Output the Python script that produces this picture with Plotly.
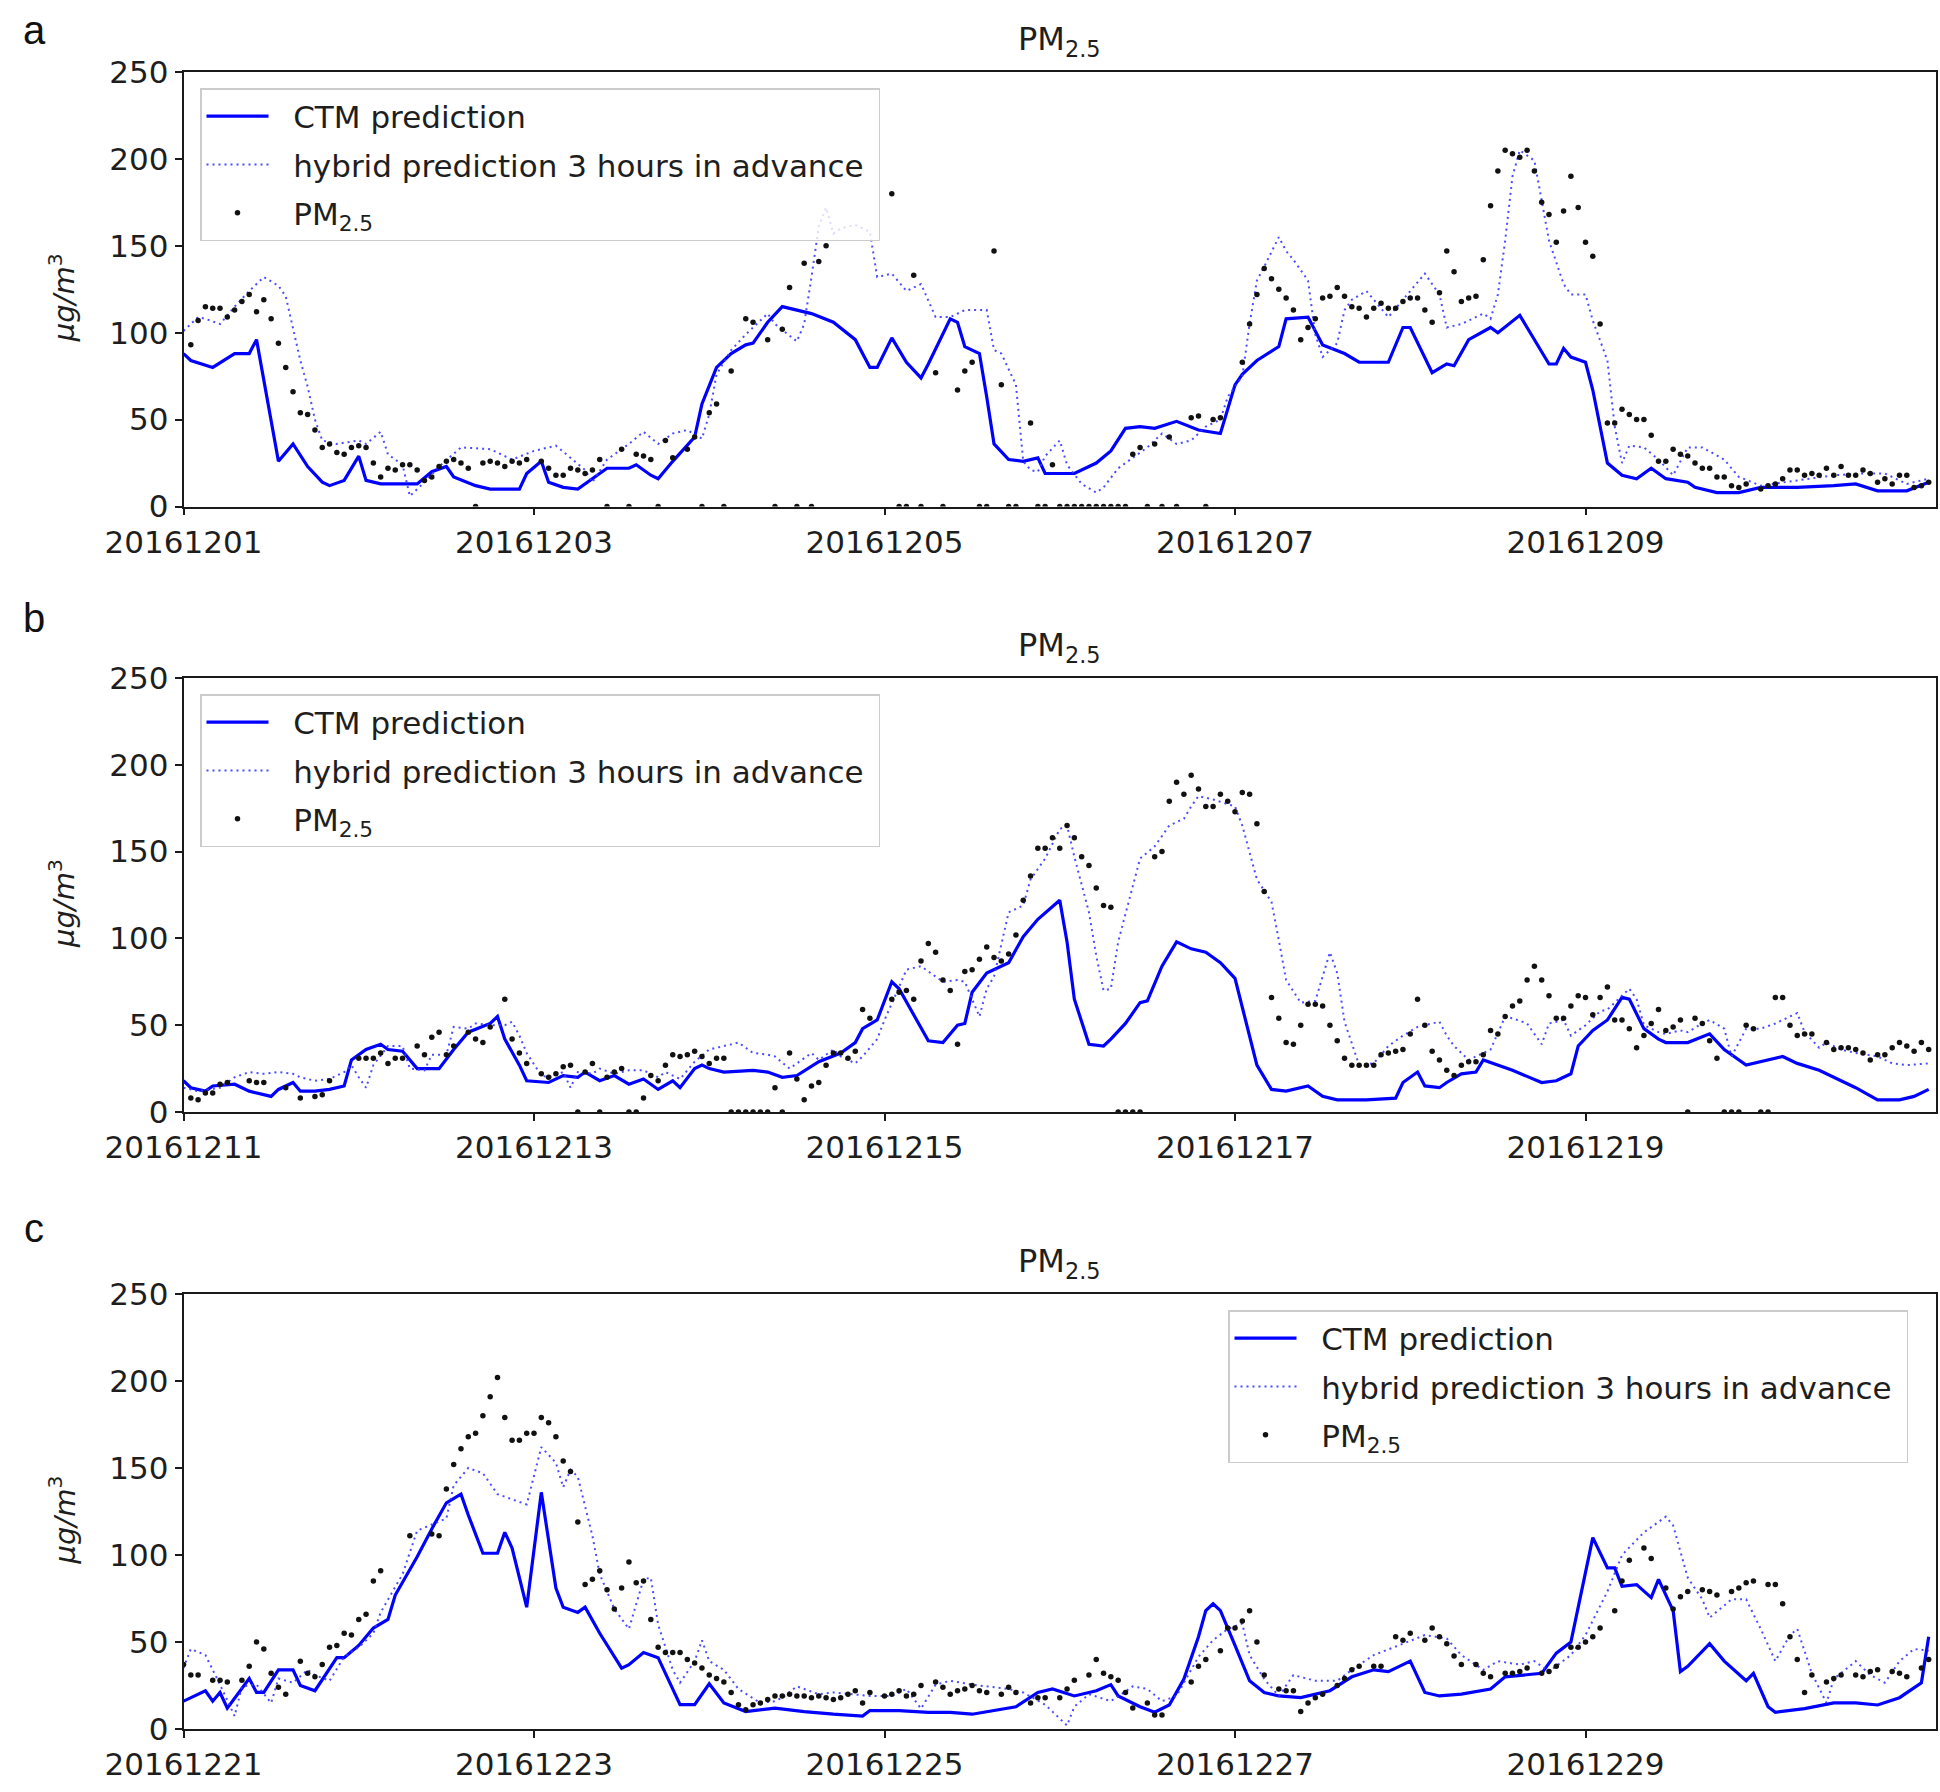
import plotly.graph_objects as go

W, H = 1940, 1792

# ---------------- data ----------------
tick_hours = [0, 48, 96, 144, 192]
tick_labels_a = ["20161201", "20161203", "20161205", "20161207", "20161209"]
tick_labels_b = ["20161211", "20161213", "20161215", "20161217", "20161219"]
tick_labels_c = ["20161221", "20161223", "20161225", "20161227", "20161229"]
y_ticks = [0, 50, 100, 150, 200, 250]

# (hour, value) vertices
a_ctm = [(0,88),(1,84),(4,80),(6,85),(7,88),(9,88),(10,96),(13,26),(15,36),(17,23),(19,14),(20,12),(22,15),(24,29),(25,15),(27,13),(32,13),(34,20),(36,23),(37,17),(40,12),(42,10),(46,10),(47,19),(49,26),(50,14),(52,11),(54,10),(56,16),(58,22),(61,22),(62,24),(64,18),(65,16),(67,26),(70,40),(71,59),(73,80),(75,88),(77,93),(78,94),(80,106),(82,115),(86,111),(89,106),(92,96),(94,80),(95,80),(97,97),(99,83),(101,74),(102,82),(105,108),(106,106),(107,92),(109,88),(110,63),(111,36),(113,27),(115,26),(117,28),(118,19),(122,19),(125,25),(127,32),(129,45),(131,46),(133,45),(136,49),(139,44),(142,42),(144,70),(145,76),(147,84),(150,92),(151,108),(154,109),(156,93),(159,88),(161,83),(165,83),(167,103),(168,103),(171,77),(173,82),(174,81),(176,96),(179,103),(180,100),(183,110),(184,103),(187,82),(188,82),(189,91),(190,86),(192,83),(193,67),(194,46),(195,25),(197,18),(199,16),(201,22),(203,16),(206,14),(207,11),(210,8),(213,8),(216,11),(221,11),(226,12),(229,13),(232,9),(236,9),(239,14)]
a_hyb = [(0,101),(2,109),(3,108),(5,105),(7,115),(9,124),(11,132),(13,127),(14,121),(15,103),(16,84),(17,69),(18,50),(19,38),(21,36),(24,38),(25,36),(27,43),(28,30),(30,24),(31,6),(33,14),(35,23),(38,34),(42,33),(45,27),(48,32),(51,35),(53,28),(55,21),(56,14),(58,27),(61,36),(63,43),(65,36),(67,42),(69,44),(71,39),(72,53),(73,76),(75,90),(77,99),(80,111),(81,105),(84,95),(85,105),(86,132),(87,161),(88,172),(89,157),(90,160),(92,162),(94,158),(95,132),(97,134),(99,124),(101,128),(103,109),(105,109),(107,113),(110,113),(111,90),(112,88),(114,70),(115,26),(116,21),(117,20),(118,29),(120,38),(121,24),(123,13),(125,8),(126,11),(128,22),(130,28),(132,34),(134,42),(136,36),(138,38),(140,46),(142,50),(143,63),(145,75),(146,105),(147,130),(148,138),(150,155),(151,147),(152,142),(154,130),(155,99),(156,86),(158,94),(159,113),(160,119),(162,124),(165,109),(168,124),(170,134),(172,122),(173,103),(175,105),(178,111),(179,108),(180,122),(181,153),(182,190),(183,205),(185,199),(186,176),(187,153),(189,128),(190,122),(192,122),(193,107),(195,84),(196,46),(197,25),(198,35),(200,34),(202,27),(204,18),(206,34),(208,34),(211,27),(213,17),(216,12),(221,15),(226,18),(230,19),(233,19),(236,13),(239,16)]
# hourly observations (None = not shown, 0 = missing value drawn on the axis)
a_obs = [None,93,107,115,114,114,109,113,118,122,
         112,119,108,94,80,66,54,53,44,34,
         36,31,30,34,35,34,25,17,22,21,
         24,24,21,15,17,23,26,27,25,22,
         0,25,26,25,23,26,25,27,None,26,
         22,18,18,22,21,19,21,27,0,None,
         33,0,30,29,27,0,38,28,None,33,
         40,0,54,59,0,78,None,108,106,None,
         96,0,102,126,0,140,0,141,150,None,
         None,None,None,None,None,None,None,180,0,0,
         133,0,None,77,0,None,67,78,83,0,
         0,147,70,0,0,None,48,0,0,24,
         0,0,0,0,0,0,0,0,0,0,
         30,34,0,36,0,40,0,None,51,52,
         0,50,51,None,None,83,105,122,137,131,
         125,120,113,96,103,108,120,121,126,121,
         115,114,109,114,117,114,114,118,120,120,
         113,106,123,147,135,118,120,121,142,173,
         193,205,203,201,205,193,175,168,152,170,
         190,172,152,144,105,48,48,56,53,50,
         50,41,26,26,33,30,29,25,22,22,
         17,17,12,11,13,None,10,12,13,16,
         21,21,18,19,18,22,18,23,18,18,
         21,19,14,16,13,18,18,11,12,14]

b_ctm = [(0,18),(1,14),(3,12),(4,15),(7,16),(9,12),(12,9),(13,13),(15,17),(16,12),(18,12),(20,13),(22,15),(23,30),(25,36),(27,39),(28,36),(30,35),(32,25),(35,25),(37,36),(39,46),(42,51),(43,55),(44,42),(46,27),(47,18),(50,17),(52,21),(54,20),(55,23),(57,18),(59,21),(61,16),(63,19),(65,13),(67,18),(68,14),(70,25),(71,27),(72,25),(74,23),(78,24),(80,23),(82,20),(84,21),(87,29),(90,34),(92,40),(93,48),(95,53),(97,75),(98,71),(100,56),(102,41),(104,40),(106,50),(107,51),(108,69),(110,80),(112,84),(113,86),(115,101),(117,111),(120,122),(121,98),(122,65),(124,39),(126,38),(127,42),(129,51),(131,63),(132,64),(134,84),(136,98),(138,94),(140,92),(142,86),(144,77),(146,44),(147,27),(149,13),(151,12),(154,15),(156,9),(158,7),(162,7),(166,8),(167,17),(169,23),(170,15),(172,14),(173,17),(175,22),(177,23),(178,30),(180,27),(182,24),(186,17),(188,18),(190,22),(191,38),(193,47),(195,53),(197,66),(198,65),(200,48),(202,42),(203,40),(206,40),(209,45),(211,36),(214,27),(216,29),(219,32),(221,28),(224,24),(226,20),(229,14),(232,7),(235,7),(237,9),(239,13)]
b_hyb = [(0,14),(2,12),(5,14),(7,20),(9,23),(11,22),(13,23),(15,22),(16,20),(18,18),(20,19),(22,23),(23,27),(24,20),(25,14),(26,27),(28,38),(30,38),(31,25),(33,24),(34,33),(36,33),(37,49),(39,48),(40,51),(42,50),(44,50),(45,52),(46,44),(47,34),(49,21),(50,20),(52,23),(53,14),(54,23),(56,22),(57,25),(59,22),(61,24),(63,24),(65,20),(66,23),(68,19),(70,29),(72,36),(74,38),(76,40),(78,34),(80,33),(81,32),(83,25),(86,34),(87,30),(89,36),(90,32),(92,28),(93,32),(95,42),(96,53),(98,72),(99,82),(101,84),(103,78),(104,75),(106,76),(107,75),(109,55),(110,71),(111,78),(113,115),(115,119),(116,134),(118,146),(120,163),(121,165),(122,147),(124,115),(125,90),(126,70),(127,71),(128,98),(130,130),(131,146),(133,153),(135,165),(137,169),(138,176),(139,182),(141,180),(144,176),(145,165),(147,134),(149,121),(150,99),(151,76),(153,63),(155,64),(157,92),(158,80),(159,52),(161,27),(163,28),(165,38),(167,44),(169,49),(172,52),(173,44),(174,38),(176,30),(177,32),(179,36),(181,55),(182,54),(184,51),(186,39),(187,51),(189,53),(190,44),(192,50),(194,58),(195,59),(198,71),(199,65),(200,50),(202,46),(203,45),(205,47),(206,46),(208,51),(209,53),(211,48),(212,32),(214,48),(216,48),(218,51),(221,57),(222,46),(224,37),(225,40),(227,36),(229,34),(232,32),(234,28),(236,27),(239,28)]
b_obs = [None,8,7,11,11,16,17,None,None,18,
         17,17,None,None,14,None,8,None,9,10,
         18,None,None,None,31,31,31,34,28,31,
         31,None,38,33,43,46,33,38,None,46,
         42,40,49,None,65,42,34,28,None,22,
         20,22,26,27,0,23,28,0,20,23,
         25,0,0,8,21,18,27,33,32,33,
         35,32,28,31,31,0,0,0,0,0,
         0,14,0,34,19,7,15,17,27,34,
         34,31,35,59,54,None,None,65,69,70,
         65,87,97,92,76,70,39,81,82,88,
         95,89,87,91,102,122,136,152,152,158,
         152,165,158,147,142,129,119,118,0,0,
         0,0,None,147,150,179,190,183,194,186,
         176,176,183,179,173,184,183,166,127,66,
         54,40,39,50,62,62,61,50,41,31,
         27,27,27,27,33,34,35,36,45,65,
         50,35,30,24,21,27,29,29,33,47,
         45,55,61,64,76,84,76,67,54,54,
         61,67,66,56,66,72,53,53,48,37,
         44,51,59,47,49,53,0,54,51,41,
         31,0,0,0,50,48,0,0,66,66,
         50,44,45,45,None,40,36,37,37,36,
         34,30,33,33,37,40,38,35,40,36]

c_ctm = [(0,16),(3,22),(4,16),(5,21),(6,12),(9,29),(10,21),(11,21),(13,34),(15,34),(16,25),(18,22),(21,41),(22,41),(24,48),(26,58),(28,63),(29,77),(32,99),(34,115),(36,130),(38,135),(39,123),(41,101),(43,101),(44,113),(45,104),(47,70),(49,136),(51,81),(52,70),(54,67),(55,70),(57,55),(60,35),(61,37),(63,44),(65,41),(66,32),(68,14),(70,14),(72,26),(74,15),(77,10),(81,12),(85,10),(89,8.5),(93,7.4),(94,10.6),(98,10.6),(102,9.6),(105,9.6),(108,8.5),(111,10.6),(114,12.8),(117,21),(119,23),(122,19),(125,22),(127,25.5),(128,19),(131,12.8),(133,9.6),(135,13.8),(137,28.7),(139,53),(140,68),(141,72),(142,68),(144,48),(146,27.7),(148,21),(150,19),(153,18),(157,22),(160,30),(163,34),(165,33),(168,39),(170,21),(172,19),(175,20),(179,23),(181,30),(184,31),(186,32),(188,43.6),(190,50),(193,110),(195,92.6),(196,92.6),(197,82),(199,83),(201,75.5),(202,86),(204,68),(205,33),(206,36),(209,49),(211,39),(214,27.7),(215,32),(217,12.8),(218,9.6),(222,11.7),(226,15),(229,15),(232,13.8),(235,18),(238,26.6),(239,53)]
c_hyb = [(0,35),(1,46),(3,42.5),(5,25.5),(7,7.4),(8,24.5),(10,25.5),(12,15),(13,29),(15,26.6),(17,34),(18,31),(20,27.7),(22,41.5),(24,47),(26,55),(27,67),(30,89),(32,114),(36,121),(37,140),(39,150),(41,147),(43,135),(45,132),(47,129),(49,162),(51,153),(52,139),(53,149),(54,145),(56,111),(57,89),(59,69),(61,57.5),(63,86),(64,87),(65,60),(67,34),(68,26.6),(70,39),(71,51),(72,39),(74,34),(76,23),(79,15),(81,16),(82,18),(84,24.5),(87,20),(89,21),(92,20),(94,19),(97,19),(99,23),(101,11.7),(103,25.5),(105,27.7),(108,25.5),(110,24.5),(113,23),(115,21),(118,14),(121,2),(122,12.8),(124,20),(127,16),(130,24.5),(132,23),(134,16),(136,19),(139,41.5),(141,51),(143,57.5),(145,60.6),(146,42.5),(148,28.7),(150,19),(152,31),(155,27.7),(158,27.7),(160,34),(163,42.5),(167,49),(170,54),(173,52),(175,42.5),(178,34),(180,39),(183,37),(185,39),(187,33),(190,42.5),(192,54),(195,79),(197,100),(200,113),(203,122),(204,117),(206,87),(208,74.5),(209,64),(212,74.5),(214,74.5),(216,57.5),(218,39),(220,54),(221,57.5),(223,32),(225,15),(226,28.7),(229,39),(231,31),(233,26.6),(235,39),(237,46),(239,45)]
c_obs = [37,31,31,None,28,28,27,None,28,36,
         50,46,32,24,20,None,39,32,30,37,
         47,48,55,54,63,66,85,91,None,None,
         None,111,None,None,112,111,138,152,161,168,
         170,180,191,202,179,166,166,170,170,179,
         176,168,154,148,119,83,86,91,80,69,
         81,96,84,85,63,47,44,44,44,40,
         38,35,31,29,27,21,14,11,14,15,
         17,19,19,20,19,19,18,19,18,17,
         18,20,22,15,21,None,19,20,22,19,
         20,25,None,27,24,20,22,23,25,22,
         21,None,20,24,21,None,15,18,18,None,
         18,23,28,None,31,40,32,30,28,21,
         12,None,15,8,8,None,None,None,27,36,
         40,None,45,58,58,62,68,50,31,None,
         23,22,22,10,15,18,20,None,25,29,
         34,36,None,36,36,None,53,51,55,None,
         51,58,53,49,42,37,None,37,32,30,
         None,32,32,33,35,None,32,33,36,None,
         47,47,50,53,58,None,68,85,97,None,
         104,98,None,81,69,76,79,None,80,79,
         77,None,79,81,84,85,None,83,83,72,
         53,40,21,31,None,27,29,31,None,31,
         30,33,34,None,33,32,30,None,35,40]

series_names = ["CTM prediction", "hybrid prediction 3 hours in advance", "PM<sub>2.5</sub>"]

panels = [
    dict(ctm=a_ctm, hyb=a_hyb, obs=a_obs, ticks=tick_labels_a),
    dict(ctm=b_ctm, hyb=b_hyb, obs=b_obs, ticks=tick_labels_b),
    dict(ctm=c_ctm, hyb=c_hyb, obs=c_obs, ticks=tick_labels_c),
]

# ---------------- layout geometry (pixels) ----------------
PX_L, PX_R = 183.5, 1936
tops = [72, 678, 1294]
bottoms = [506.5, 1112, 1729]
legend_pos = [(200, 88), (200, 694), (1228, 1310)]
letters = ["a", "b", "c"]
letter_y = [30, 618, 1228]

def px_x(x):
    return x / W

def px_y(y):
    return 1 - y / H

FONT = "DejaVu Sans"
TXT = "#1e1e1e"
FS = 31
GAP = "&nbsp;&nbsp;"

fig = go.Figure()
layout = dict(width=W, height=H, margin=dict(l=0, r=0, t=0, b=0, pad=0, autoexpand=False),
              paper_bgcolor="white", plot_bgcolor="white", showlegend=True,
              annotations=[])

for i, p in enumerate(panels):
    sfx = "" if i == 0 else str(i + 1)
    xa, ya = "x" + sfx, "y" + sfx
    lg = "legend" + sfx
    hx, hv = zip(*p["ctm"])
    fig.add_trace(go.Scatter(x=list(hx), y=list(hv), mode="lines",
                             name=GAP + series_names[0] + "&nbsp;",
                             line=dict(color="#0000ff", width=3.2), xaxis=xa, yaxis=ya,
                             legend=lg, legendgroup="g1" + sfx))
    hx, hv = zip(*p["hyb"])
    fig.add_trace(go.Scatter(x=list(hx), y=list(hv), mode="lines",
                             name=GAP + series_names[1] + "&nbsp;",
                             line=dict(color="rgba(55,55,255,0.9)", width=2, dash="2px,4px"),
                             xaxis=xa, yaxis=ya, legend=lg, legendgroup="g2" + sfx))
    fig.add_trace(go.Scatter(x=list(range(len(p["obs"]))), y=p["obs"], mode="markers",
                             name=GAP + series_names[2],
                             marker=dict(color="#111111", size=5.5),
                             xaxis=xa, yaxis=ya, legend=lg, legendgroup="g3" + sfx))

    axis_common = dict(showline=True, linecolor="#1a1a1a", linewidth=1.6, mirror=True,
                       ticks="outside", ticklen=7, tickwidth=1.5, tickcolor="#1a1a1a",
                       showgrid=False, zeroline=False, automargin=False,
                       tickfont=dict(family=FONT, size=FS, color=TXT))
    layout["xaxis" + sfx] = dict(axis_common, domain=[px_x(PX_L), px_x(PX_R)],
                                 range=[0, 240], tickvals=tick_hours, ticktext=p["ticks"],
                                 anchor=ya)
    layout["yaxis" + sfx] = dict(axis_common, domain=[px_y(bottoms[i]), px_y(tops[i])],
                                 range=[0, 250], tickvals=y_ticks, anchor=xa)
    lx, ly = legend_pos[i]
    layout[lg] = dict(x=px_x(lx), y=px_y(ly), xanchor="left", yanchor="top",
                      bgcolor="rgba(255,255,255,0.8)", bordercolor="#cccccc", borderwidth=1.5,
                      font=dict(family=FONT, size=FS, color=TXT), itemwidth=62,
                      tracegroupgap=5)
    # title
    layout["annotations"].append(dict(text="PM<sub>2.5</sub>", x=px_x((PX_L + PX_R) / 2),
                                      y=px_y(tops[i] - 31), xref="paper", yref="paper",
                                      xanchor="center", yanchor="middle", showarrow=False,
                                      font=dict(family=FONT, size=32, color=TXT)))
    # y label
    layout["annotations"].append(dict(text="<i>μg/m</i><sup>3</sup>", x=px_x(62),
                                      y=px_y((tops[i] + bottoms[i]) / 2 + 8),
                                      xref="paper", yref="paper", xanchor="center",
                                      yanchor="middle", textangle=-90, showarrow=False,
                                      font=dict(family=FONT, size=29, color=TXT)))
    # panel letter
    layout["annotations"].append(dict(text=letters[i], x=px_x(34), y=px_y(letter_y[i]),
                                      xref="paper", yref="paper", xanchor="center",
                                      yanchor="middle", showarrow=False,
                                      font=dict(family="Liberation Sans", size=40, color="#111")))

fig.update_layout(**layout)
fig.write_html("out.html")
